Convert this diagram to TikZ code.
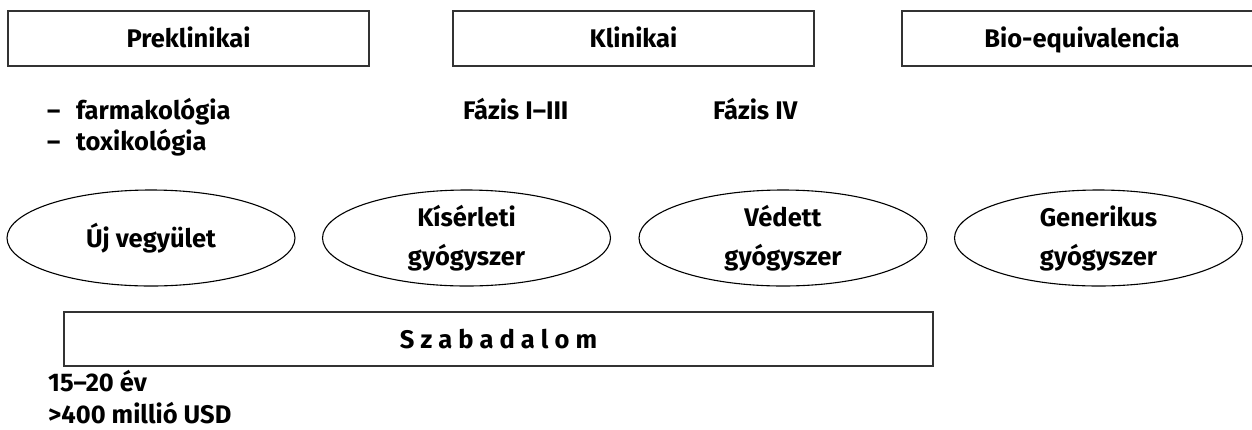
\documentclass[tikz,border=0pt]{standalone}
\usepackage{fontspec}
\setmainfont{Fira Sans}
\usetikzlibrary{shapes.geometric}
\begin{document}
\begin{tikzpicture}[x=1pt,y=-1pt,
  txt/.style={font=\fontsize{25.5}{39}\selectfont\bfseries, inner sep=0pt, text=black},
  box/.style={txt, draw=black!80, line width=1.5pt, rectangle, minimum height=55pt, text height=18pt, text depth=0pt},
  ell/.style={txt, draw=black, line width=1.1pt, ellipse, minimum width=288pt, minimum height=96pt, align=center},
  free/.style={txt, anchor=base west}]
\useasboundingbox (0,0) rectangle (1252,429);
% top phase boxes
\node[box, minimum width=361pt] (prek) at (188.5,38.5) {Preklinikai};
\node[box, minimum width=361pt] (klin) at (633.5,38.5) {Klinikai};
\node[box, minimum width=360pt] (bio)  at (1082,38.5) {Bio-equivalencia};
% sub-labels
\node[free] (farm) at (47,119) {\makebox[29pt][l]{–}farmakológia};
\node[free] (toxi) at (47,150) {\makebox[29pt][l]{–}toxikológia};
\node[free] (f13) at (463,119) {Fázis I–III};
\node[free] (f4)  at (713,119) {Fázis IV};
% ellipses
\node[ell] (uj)  at (151,238) {Új vegyület};
\node[ell] (kis) at (466.5,238) {Kísérleti\\gyógyszer};
\node[ell] (ved) at (783,238) {Védett\\gyógyszer};
\node[ell] (gen) at (1098.5,238) {Generikus\\gyógyszer};
% patent bar
\node[box, minimum width=869pt, minimum height=54pt] (szab) at (498.5,339) {S z a b a d a l o m};
% bottom notes
\node[free] (ev)  at (48,391) {15–20 év};
\node[free] (usd) at (48,423) {>400 millió USD};
\end{tikzpicture}
\end{document}
